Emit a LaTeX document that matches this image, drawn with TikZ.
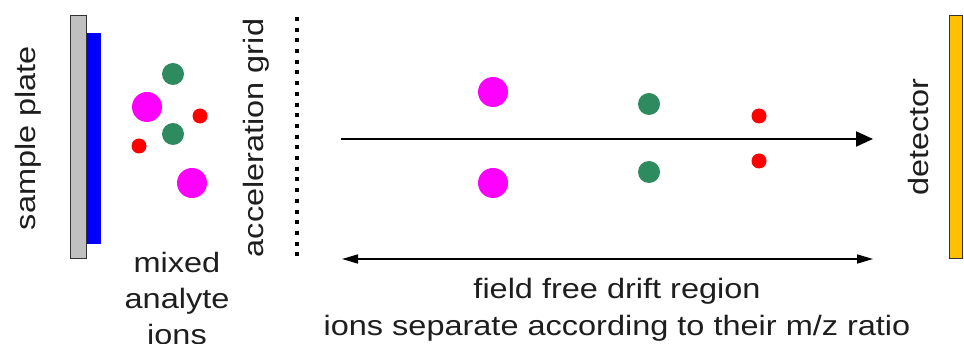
\documentclass[tikz,border=0pt]{standalone}
\usepackage{fontspec}
\setmainfont{Liberation Sans}[FakeStretch=1.16]
\usetikzlibrary{arrows.meta}
\definecolor{plategrey}{RGB}{192,192,192}
\definecolor{ionmag}{RGB}{255,0,255}
\definecolor{iongreen}{RGB}{46,139,96}
\definecolor{ionred}{RGB}{255,0,0}
\definecolor{detgold}{RGB}{255,192,0}
\definecolor{txt}{RGB}{30,30,30}
\tikzset{
  lbl/.style={font=\fontsize{28}{36}\selectfont, text=txt, inner sep=0pt, align=center, anchor=base},
  heavy/.style={circle, fill=ionmag, minimum size=30pt, inner sep=0pt},
  medium/.style={circle, fill=iongreen, minimum size=22pt, inner sep=0pt},
  light/.style={circle, fill=ionred, minimum size=15pt, inner sep=0pt},
  flight/.style={line width=2pt, -{Triangle[length=17pt,width=15pt]}},
  span/.style={line width=1.6pt, {Triangle[length=16pt,width=9pt]}-{Triangle[length=16pt,width=9pt]}},
}
\begin{document}
\begin{tikzpicture}[x=1pt, y=-1pt]
  \useasboundingbox (0,0) rectangle (964,344);
  \clip (0,0) rectangle (964,344);
  \fill[white] (0,0) rectangle (964,344);

  % sample plate with analyte layer
  \node[draw=black!80, line width=1pt, fill=plategrey, minimum width=16pt, minimum height=243pt, inner sep=0pt] (plate) at (78.5,137.5) {};
  \node[fill=blue, minimum width=14pt, minimum height=211pt, inner sep=0pt] (layer) at (94,138.5) {};
  \node[lbl, rotate=90] (platelbl) at (35,138) {sample plate};

  % ions right after desorption
  \node[medium] (g1) at (173,74) {};
  \node[heavy]  (m1) at (147,107) {};
  \node[light]  (r1) at (200,116) {};
  \node[medium] (g2) at (173,134) {};
  \node[light]  (r2) at (139,146) {};
  \node[heavy]  (m2) at (192,183) {};
  % base anchor of a multi-line node sits on its last line
  \node[lbl, font=\fontsize{28}{36}\selectfont] (mixlbl) at (177,345) {mixed\\analyte\\ions};

  % acceleration grid
  \coordinate (gridtop) at (297,17);
  \coordinate (gridbot) at (297,258);
  \draw[line width=4pt, dash pattern=on 4pt off 6.7pt] (gridtop) -- (gridbot);
  \node[lbl, rotate=90] (gridlbl) at (263,138) {acceleration grid};

  % flight path and separated ions
  \coordinate (flyA) at (341,139);
  \coordinate (flyB) at (873,139);
  \draw[flight] (flyA) -- (flyB);
  \node[heavy]  (m3) at (493,92) {};
  \node[heavy]  (m4) at (493,183) {};
  \node[medium] (g3) at (649,104) {};
  \node[medium] (g4) at (649,172) {};
  \node[light]  (r3) at (759,116) {};
  \node[light]  (r4) at (759,161) {};

  % drift region extent
  \coordinate (driftA) at (342,259);
  \coordinate (driftB) at (873,259);
  \draw[span] (driftA) -- (driftB);
  \node[lbl, font=\fontsize{28}{37}\selectfont] (driftlbl) at (617,336) {field free drift region\\ions separate according to their m/z ratio};

  % detector
  \node[draw=black!80, line width=1pt, fill=detgold, minimum width=13pt, minimum height=243pt, inner sep=0pt] (det) at (955.5,137.5) {};
  \node[lbl, rotate=90] (detlbl) at (928,137) {detector};
\end{tikzpicture}
\end{document}
